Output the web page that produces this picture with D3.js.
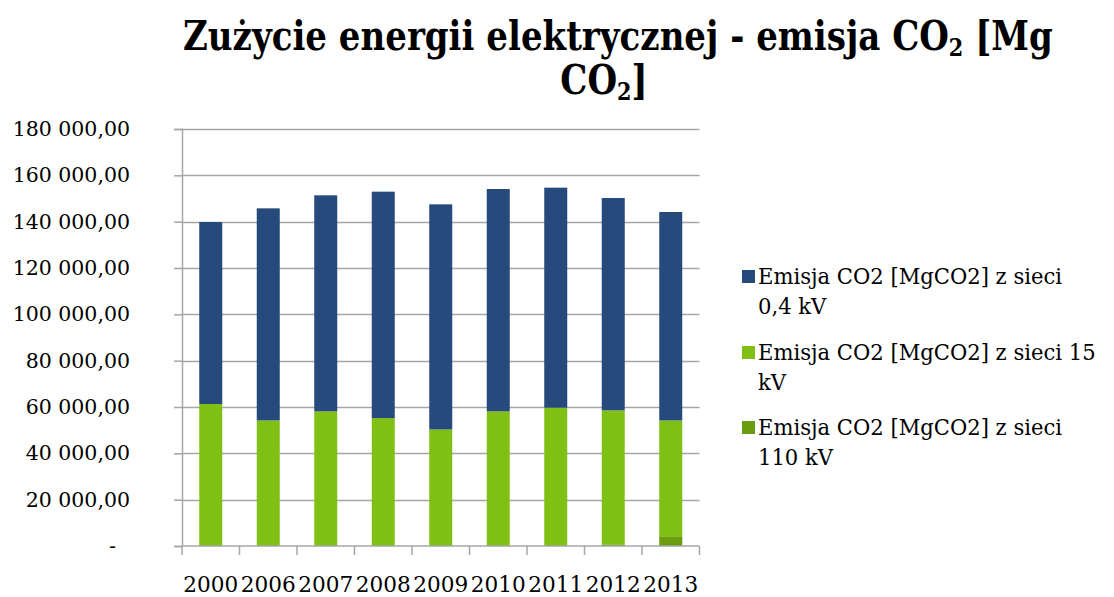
<!DOCTYPE html>
<html>
<head>
<meta charset="utf-8">
<script src="https://cdn.jsdelivr.net/npm/d3@7"></script>
<style>
  html, body { margin: 0; padding: 0; background: #ffffff; }
  svg { display: block; }
  svg text { font-family: "DejaVu Serif", serif; }
</style>
</head>
<body>
<svg id="chart" width="1114" height="597"></svg>
<script>
// Years on the category axis
const years = ["2000", "2006", "2007", "2008", "2009", "2010", "2011", "2012", "2013"];

// CO2 emission per grid voltage level [Mg CO2]
const emis110kV = [0, 0, 0, 0, 0, 0, 0, 700, 4200];
const emis15kV  = [61300, 54200, 58100, 55200, 50300, 58100, 59700, 57850, 50000];
const emis04kV  = [78550, 91550, 93270, 97750, 97180, 96000, 94980, 91670, 89970];

// Colours: 110 kV, 15 kV, 0,4 kV (bottom → top)
const seriesColors = ["#6a9c10", "#80c014", "#254a7b"];

// Y axis ticks
const yTicks = [0, 20000, 40000, 60000, 80000, 100000, 120000, 140000, 160000, 180000];

const svg = d3.select("#chart");
const plot = { left: 182, right: 699.5, top: 129, bottom: 546 };

const x = d3.scaleBand()
  .domain(years)
  .range([plot.left, plot.right])
  .paddingInner(0.6)
  .paddingOuter(0.3);

const y = d3.scaleLinear()
  .domain([0, 180000])
  .range([plot.bottom, plot.top]);

// Polish number format: space as thousands separator, comma as decimal mark
const fmt = v => v === 0 ? "-" :
  d3.format(",.2f")(v).replace(/,/g, " ").replace(".", ",");

// Horizontal gridlines
const gridColor = "#a6a6a6";
svg.append("g")
  .selectAll("line")
  .data(yTicks.slice(1))
  .join("line")
  .attr("x1", plot.left).attr("x2", plot.right)
  .attr("y1", d => Math.round(y(d)) + 0.5).attr("y2", d => Math.round(y(d)) + 0.5)
  .attr("stroke", gridColor).attr("stroke-width", 1.5);

// Stacked bars
const table = years.map((yr, i) => ({ year: yr, s0: emis110kV[i], s1: emis15kV[i], s2: emis04kV[i] }));
const layers = d3.stack().keys(["s0", "s1", "s2"])(table);

svg.append("g")
  .selectAll("g")
  .data(layers)
  .join("g")
  .attr("fill", (d, i) => seriesColors[i])
  .selectAll("rect")
  .data(d => d)
  .join("rect")
  .attr("x", d => x(d.data.year))
  .attr("width", x.bandwidth())
  .attr("y", d => y(d[1]))
  .attr("height", d => y(d[0]) - y(d[1]));

// Y axis line and ticks
const gy = svg.append("g")
  .attr("transform", `translate(${plot.left},0)`)
  .call(d3.axisLeft(y).tickValues(yTicks).tickSize(8).tickFormat(() => ""));
gy.select(".domain").attr("stroke", gridColor).attr("stroke-width", 1.5);
gy.selectAll(".tick line").attr("stroke", gridColor).attr("stroke-width", 1.5);

// Y tick labels
svg.append("g")
  .selectAll("text")
  .data(yTicks)
  .join("text")
  .attr("x", d => d === 0 ? 116 : 130)
  .attr("y", d => y(d) + 7)
  .attr("text-anchor", "end")
  .attr("font-size", 20.5)
  .attr("fill", "#000")
  .text(fmt);

// X axis: line, ticks on category boundaries, year labels
const xBoundaries = d3.range(years.length + 1).map(i => plot.left + i * x.step());
const gx = svg.append("g");
gx.append("line")
  .attr("x1", plot.left).attr("x2", plot.right)
  .attr("y1", plot.bottom).attr("y2", plot.bottom)
  .attr("stroke", gridColor).attr("stroke-width", 1.5);
gx.selectAll("line.tk")
  .data(xBoundaries)
  .join("line")
  .attr("class", "tk")
  .attr("x1", d => d).attr("x2", d => d)
  .attr("y1", plot.bottom).attr("y2", plot.bottom + 9)
  .attr("stroke", gridColor).attr("stroke-width", 1.5);
gx.selectAll("text")
  .data(years)
  .join("text")
  .attr("x", d => x(d) + x.bandwidth() / 2)
  .attr("y", 591.5)
  .attr("text-anchor", "middle")
  .attr("font-size", 21.6)
  .attr("fill", "#000")
  .text(d => d);

// Title: two lines, condensed heavy serif
const title = svg.append("g")
  .attr("font-weight", "bold")
  .attr("fill", "#000");
const t1 = title.append("text")
  .attr("text-anchor", "start")
  .attr("font-size", 41);
t1.append("tspan").text("Zużycie energii elektrycznej - emisja CO");
t1.append("tspan").attr("font-size", 25).attr("dy", 6).text("2");
t1.append("tspan").attr("dy", -6).text(" [Mg");
const w1 = t1.node().getComputedTextLength();
const sx = 870 / w1;
t1.attr("transform", `translate(183,50) scale(${sx},1)`);

const t2 = title.append("text")
  .attr("text-anchor", "start")
  .attr("font-size", 41);
t2.append("tspan").text("CO");
t2.append("tspan").attr("font-size", 25).attr("dy", 6).text("2");
t2.append("tspan").attr("dy", -6).text("]");
const w2 = t2.node().getComputedTextLength();
t2.attr("transform", `translate(${604 - w2 * sx / 2},94) scale(${sx},1)`);

// Legend (top series listed first)
const legendItems = [
  { lines: ["Emisja CO2 [MgCO2] z sieci", "0,4 kV"], color: seriesColors[2], y: 284 },
  { lines: ["Emisja CO2 [MgCO2] z sieci 15", "kV"], color: seriesColors[1], y: 360 },
  { lines: ["Emisja CO2 [MgCO2] z sieci", "110 kV"], color: seriesColors[0], y: 435 }
];
const lg = svg.append("g").attr("fill", "#000");
legendItems.forEach(item => {
  lg.append("rect")
    .attr("x", 742).attr("y", item.y - 14)
    .attr("width", 13).attr("height", 13)
    .attr("fill", item.color);
  const t = lg.append("text")
    .attr("font-size", 22)
    .attr("transform", `translate(758,${item.y}) scale(0.96,1)`);
  item.lines.forEach((ln, k) => {
    t.append("tspan").attr("x", 0).attr("dy", k === 0 ? 0 : 30).text(ln);
  });
});
</script>
</body>
</html>
